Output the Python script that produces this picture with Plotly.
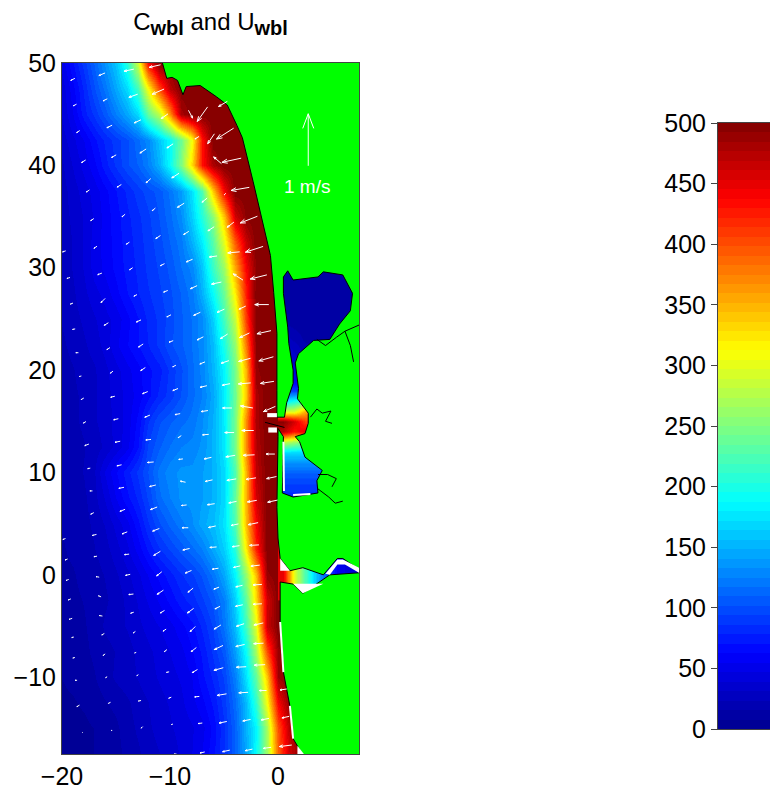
import numpy as np
import plotly.graph_objects as go

ocean_x = list(range(-20, 4))
ocean_y = [50, 47.5, 45, 42.5, 40, 37.5, 35, 32.5, 30, 27.5, 25, 22.5, 20, 17.5, 15, 12.5, 10, 7.5, 5, 2.5, 0,
           -2.5, -5, -7.5, -10, -12.5, -15, -17.5]
# one row per ocean_y, from x=-20 eastward; the shelf is saturated (500) beyond the end of a row
ocean_rows = [
    [50, 70, 90, 110, 135, 160, 205, 290, 435],
    [42, 60, 80, 100, 120, 145, 170, 220, 310, 400, 470],
    [40, 55, 75, 88, 105, 125, 145, 170, 235, 280, 370, 480],
    [35, 45, 55, 68, 80, 90, 100, 115, 130, 160, 190, 240, 310, 430],
    [30, 40, 50, 60, 75, 88, 100, 110, 125, 150, 190, 250, 330, 430, 480],
    [28, 35, 43, 50, 60, 70, 80, 90, 98, 105, 120, 140, 175, 225, 340, 440],
    [28, 33, 40, 48, 58, 67, 76, 84, 92, 102, 115, 132, 165, 205, 255, 340, 460, 495],
    [26, 32, 40, 50, 58, 66, 74, 82, 90, 98, 110, 122, 150, 180, 230, 300, 395, 465],
    [26, 32, 40, 50, 57, 65, 73, 80, 88, 95, 104, 117, 128, 160, 215, 265, 355, 440, 495],
    [25, 30, 37, 44, 50, 60, 70, 78, 85, 92, 100, 110, 122, 150, 190, 240, 320, 425],
    [24, 28, 33, 38, 44, 50, 60, 70, 80, 88, 98, 108, 118, 130, 165, 220, 285, 410],
    [22, 26, 30, 35, 42, 53, 62, 70, 78, 88, 100, 108, 118, 130, 155, 200, 260, 380, 495],
    [20, 23, 27, 30, 37, 44, 52, 60, 68, 75, 88, 100, 115, 128, 152, 185, 245, 350, 490],
    [20, 22, 25, 30, 36, 42, 50, 58, 68, 80, 90, 102, 115, 125, 145, 180, 240, 340, 480],
    [20, 22, 25, 30, 35, 42, 50, 65, 85, 100, 108, 115, 120, 132, 150, 180, 245, 370, 480],
    [18, 20, 23, 27, 33, 42, 52, 70, 95, 108, 118, 125, 128, 135, 150, 178, 245, 370, 475],
    [18, 20, 24, 30, 48, 62, 75, 88, 102, 120, 130, 135, 135, 140, 150, 170, 225, 350, 470],
    [17, 19, 22, 28, 40, 55, 68, 80, 95, 115, 125, 135, 135, 140, 150, 170, 235, 350, 460],
    [16, 18, 21, 25, 32, 42, 52, 68, 85, 100, 112, 122, 132, 145, 155, 175, 225, 345, 440],
    [15, 17, 20, 23, 28, 36, 45, 58, 72, 85, 95, 105, 115, 125, 145, 165, 205, 320, 425],
    [14, 15, 18, 20, 24, 30, 37, 45, 55, 65, 75, 85, 92, 103, 120, 145, 185, 260, 345, 490],
    [12, 14, 16, 18, 22, 27, 33, 40, 48, 56, 65, 75, 82, 92, 105, 125, 165, 235, 330, 460],
    [10, 12, 15, 18, 25, 28, 32, 37, 42, 47, 52, 60, 68, 80, 95, 120, 155, 220, 300, 465],
    [10, 12, 14, 17, 20, 24, 28, 33, 37, 42, 47, 52, 62, 72, 88, 105, 140, 190, 270, 400, 490],
    [8, 10, 12, 15, 20, 25, 28, 32, 36, 40, 44, 48, 55, 68, 80, 95, 125, 175, 235, 340, 485],
    [6, 7, 9, 12, 15, 18, 22, 27, 31, 36, 40, 45, 52, 60, 72, 90, 115, 155, 210, 310, 440, 490],
    [4, 5, 6, 8, 10, 14, 20, 25, 30, 34, 38, 42, 46, 52, 65, 85, 110, 150, 185, 270, 400, 470],
    [4, 5, 6, 8, 10, 13, 18, 22, 27, 31, 35, 40, 47, 55, 68, 85, 110, 145, 190, 265, 390, 460, 490],
]
ocean_z = [r + [500] * (len(ocean_x) - len(r)) for r in ocean_rows]

bay_x = [0.5, 1.5, 2.5, 3.5, 4.5, 5.5, 6.5, 7.5]
bay_y = list(range(31, -3, -1))
bay_z = [
    [12] * 8, [12] * 8, [12] * 8, [12] * 8, [12] * 8, [12] * 8, [12] * 8,
    [20, 16, 12, 12, 12, 12, 12, 12],
    [28, 22, 14, 12, 12, 12, 12, 12],
    [38, 30, 20, 14, 12, 12, 12, 12],
    [42, 35, 25, 20, 20, 20, 20, 20],
    [49, 42, 32, 30, 30, 30, 30, 30],
    [60, 55, 50, 50, 50, 50, 50, 50],
    [95, 90, 85, 85, 85, 85, 85, 85],
    [170, 190, 215, 220, 220, 220, 220, 220],
    [290, 295, 350, 380, 380, 380, 380, 380],
    [495, 460, 410, 400, 400, 400, 400, 400],
    [470, 430, 450, 470, 470, 470, 470, 470],
    [290, 270, 255, 250, 250, 250, 250, 250],
    [170, 170, 170, 170, 170, 170, 170, 170],
    [135, 135, 135, 135, 135, 135, 135, 135],
    [110, 110, 110, 110, 110, 110, 110, 110],
    [95, 95, 95, 95, 95, 95, 95, 95],
    [85, 85, 85, 85, 85, 85, 85, 85],
    [85, 85, 85, 85, 85, 85, 85, 85],
    [85, 85, 85, 85, 85, 85, 85, 85],
    [450, 300, 225, 160, 100, 60, 40, 40],
    [450, 300, 225, 160, 100, 60, 40, 40],
    [450, 300, 225, 160, 100, 60, 40, 40],
    [450, 300, 225, 160, 100, 60, 40, 40],
    [450, 300, 225, 160, 100, 60, 40, 40],
    [450, 300, 225, 160, 100, 60, 40, 40],
    [450, 300, 225, 160, 100, 60, 40, 40],
    [450, 300, 225, 160, 100, 60, 40, 40],
]
bay_z = bay_z[:len(bay_y)]

land_x = [-11, -10.7, -10.3, -9.8, -9.3, -8.8, -8.5, -7.2, -5.7, -4.7, -3.8, -3.3, -2.3, -1.4, -0.7, -0.4, -0.1, -0.1,
          -0.1, 0.6, 0.8, 1.4, 1.4, 1.0, 0.9, 0.5, 0.5, 0.9, 1.4, 3.7, 4.2, 6.0, 6.9, 6.7, 5.7, 4.8, 3.3, 1.9, 1.6, 1.9,
          1.8, 2.8, 2.8, 2.5, 1.6, 2.0, 2.5, 4.1, 3.6, 3.7, 1.4, 0.4, 0.5, 0.0, 0.0, -0.1, 0.0, 0.2, 1.1, 2.3, 4.2, 5.5,
          6.0, 7.4, 9, 9, 7.5, 4.8, 2.3, 1.4, 0.2, 0.2, 0.5, 1.1, 1.4, 2.3, 2.5, 9, 9, -11]
land_y = [52, 50, 48.5, 48.6, 48.3, 46.9, 47.7, 47.8, 46.7, 45.9, 43.9, 42.7, 38.4, 34.5, 31.2, 27.6, 23.6, 18,
          15.4, 15.4, 16.8, 18.7, 20, 22.6, 24.2, 27.5, 29.1, 29.7, 28.8, 29.1, 29.6, 29.3, 27.5, 25.8, 24.5, 23, 22.9,
          21.6, 20.7, 18.2, 17.2, 15.8, 14.8, 13.8, 13.5, 13, 11.5, 10.2, 9.2, 8, 7.6, 8, 13.5, 14.3, 13.5, 6.6, 3.6,
          1.6, 0.4, 0.7, 0, 1.6, 1.6, 0.6, 0.6, 0.2, 0.2, 0, -1.8, -0.9, -0.7, -4.6, -9.5, -12.8, -16, -17.6, -19, -19,
          52, 52]

white_patches = [
    ([-1.0, -0.1, -0.1, -1.0], [15.8, 15.8, 15.4, 15.4]),
    ([-0.9, -0.1, -0.1, -0.9], [14.4, 14.4, 13.9, 13.9]),
    ([1.4, 4.2, 2.3], [-0.86, -0.86, -1.8]),
    ([0.2, 1.1, 0.2], [1.6, 0.4, 0.4]),
    ([4.4, 5.5, 6.0, 7.5, 7.5, 6.2, 5.5, 4.8], [0.1, 1.5, 1.5, 0.7, 0.2, 1.0, 1.0, 0.0]),
    ([1.8, 2.4, 1.8], [-16.7, -17.5, -17.5]),
]
white_shore_x = [0.2, 0.5, None, 1.1, 1.4, None, 0.55, 0.5, None, 1.4, 3.0]
white_shore_y = [-4.6, -9.5, None, -12.8, -16, None, 8.2, 13, None, 7.8, 7.9]

creek_x = [3.0, 3.6, 4.1, 4.9, 4.4, 5.0, None, 3.6, 4.4, 5.4, 6.2, 7.5, None, 6.2, 6.7, 7.0, None, 3.7, 4.6, 5.4, 5.0,
           None, -1.2, 0.6, None, 3.7, 4.7, 5.3, 6.0]
creek_y = [15.4, 16.2, 15.8, 16.0, 15.0, 14.8, None, 23.0, 22.4, 23.2, 23.8, 24.4, None, 23.8, 22.4, 20.8, None, 9.8,
           9.8, 9.4, 8.6, None, 14.9, 14.4, None, 8.4, 7.6, 7.0, 7.2]

quiver_x = [-19.0, -16.3, -13.8, -11.4, -18.8, -16.0, -13.4, -11.1, -18.5, -15.6, -13.0, -10.5, -8.1, -7.0, -5.1,
            -18.0, -15.2, -12.5, -10.0, -7.5, -6.2, -4.9, -17.6, -14.7, -12.0, -9.5, -5.6, -4.3,
            -17.2, -14.3, -11.5, -9.0, -6.8, -4.9, -3.5, -16.9, -13.9, -11.1, -8.5, -6.2, -4.4, -2.7,
            -19.8, -19.4, -16.5, -13.6, -10.7, -8.2, -6.0, -4.1, -2.2, -10.4, -7.8, -5.7, -3.7, -1.8,
            -19.1, -16.2, -13.2, -18.9, -15.9, -12.9, -10.1, -7.5, -5.3, -3.3, -1.5,
            -18.6, -15.7, -12.7, -9.9, -7.2, -5.0, -3.1, -1.3, -18.3, -15.4, -12.5, -9.6, -7.0, -4.9, -3.1, -1.1,
            -18.1, -15.3, -12.3, -9.5, -6.9, -4.8, -3.1, -1.0, -17.9, -15.0, -12.1, -9.3, -6.8, -4.7, -2.9, -0.8,
            -17.7, -14.85, -12.0, -9.1, -6.7, -4.5, -2.8, -17.5, -14.7, -11.8, -9.0, -6.5, -4.4, -2.7, -0.7,
            -17.3, -14.5, -11.6, -8.8, -6.4, -4.3, -2.5, -0.6, -17.2, -14.4, -11.5, -8.7, -6.2, -4.2, -2.4, -0.5,
            -8.6, -6.1, -4.0, -2.3, -19.8, -17.0, -14.2, -11.3,
            -19.6, -16.9, -14.0, -11.2, -8.5, -6.0, -3.9, -2.2, -19.5, -16.7, -13.9, -11.0, -8.3, -5.8, -3.8, -2.1,
            -19.3, -16.5, -13.6, -10.9, -8.1, -5.7, -3.6, -1.9, -19.2, -16.4, -13.5, -10.7, -8.1, -5.6, -3.6, -1.9,
            -19.0, -16.2, -13.3, -10.5, -7.9, -5.6, -3.5, -1.8, -18.9, -16.1, -13.2, -10.4, -7.8, -5.5, -3.5, -1.8,
            -18.7, -15.9, -13.0, -10.2, -7.7, -5.5, -3.4, -1.7, -18.5, -15.6, -12.8, -10.0, -7.5, -5.2, -3.2, -1.4, 0.5,
            -18.1, -15.4, -12.6, -9.8, -7.2, -5.1, -2.9, -1.2, 0.7, -9.5, -7.0, -4.8, -2.7, -1.0, 0.7]
quiver_y = [48.4, 48.9, 49.3, 49.7, 45.9, 46.4, 46.8, 47.2, 43.3, 43.8, 44.3, 44.8, 45.0, 45.0, 46.0,
            40.4, 40.9, 41.4, 41.9, 42.7, 42.6, 43.1, 37.5, 38.0, 38.5, 39.0, 40.5, 40.5,
            34.7, 35.1, 35.7, 36.1, 36.6, 37.2, 37.7, 32.0, 32.4, 33.0, 33.4, 33.8, 34.2, 34.7,
            31.6, 29.0, 29.4, 29.9, 30.3, 30.7, 31.1, 31.5, 31.8, 27.7, 28.1, 28.5, 29.1, 29.1,
            26.5, 26.8, 27.3, 24.0, 24.5, 24.8, 25.3, 25.5, 25.8, 26.1, 26.4,
            21.7, 22.1, 22.4, 22.8, 23.1, 23.3, 23.4, 23.7, 19.4, 19.8, 20.1, 20.4, 20.7, 20.8, 21.0, 21.1,
            17.2, 17.4, 17.8, 18.1, 18.4, 18.6, 18.7, 18.8, 14.9, 15.2, 15.5, 15.7, 16.0, 16.3, 16.4, 16.2,
            12.7, 13.0, 13.2, 13.5, 13.7, 13.9, 14.1, 10.4, 10.7, 11.0, 11.3, 11.4, 11.6, 11.7, 11.8,
            8.2, 8.5, 8.7, 9.1, 9.2, 9.3, 9.4, 9.5, 6.0, 6.3, 6.5, 6.8, 6.9, 7.1, 7.2, 7.2,
            4.6, 4.7, 4.9, 5.0, 3.5, 3.9, 4.1, 4.4,
            1.5, 1.8, 2.0, 2.1, 2.5, 2.7, 2.8, 2.9, -0.5, -0.2, 0.0, 0.1, 0.3, 0.6, 0.8, 0.9,
            -2.4, -2.1, -1.9, -1.7, -1.5, -1.3, -1.1, -0.96, -4.3, -4.0, -3.7, -3.6, -3.5, -3.2, -3.0, -2.85,
            -6.1, -5.8, -5.6, -5.4, -5.3, -5.1, -4.9, -4.8, -8.1, -7.8, -7.6, -7.4, -7.3, -7.1, -6.9, -6.7,
            -10.3, -10.0, -9.8, -9.5, -9.4, -9.2, -9.0, -8.8, -12.8, -12.5, -12.3, -12.0, -11.9, -11.7, -11.5, -11.3, -11.2,
            -15.4, -15.2, -14.9, -14.6, -14.5, -14.4, -14.2, -14.1, -13.9, -17.5, -17.35, -17.2, -17.1, -16.9, -16.7]
quiver_u = [-.08, -.12, -.19, -.22, -.06, -.08, -.17, -.23, -.06, -.10, -.13, -.13, .08, -.20, -.17,
            -.08, -.09, -.12, -.12, -.08, -.13, -.33, -.06, -.08, -.09, -.14, -.15, -.37,
            -.06, -.06, -.06, -.13, -.10, -.03, -.35, -.06, -.06, -.09, -.10, -.12, -.13, -.33,
            -.06, -.06, -.08, -.06, -.08, -.12, -.15, -.23, -.34, -.08, -.13, -.19, -.19, -.32,
            -.05, -.08, -.06, -.05, -.08, -.09, -.08, -.13, -.14, -.13, -.27,
            -.05, -.06, -.09, -.08, -.12, -.14, -.19, -.27, -.04, -.05, -.09, -.06, -.10, -.15, -.23, -.28,
            -.05, -.08, -.10, -.10, -.13, -.15, -.24, -.26, -.05, -.09, -.10, -.10, -.13, -.18, -.24, -.23,
            -.08, -.10, -.10, -.06, -.12, -.18, -.23, -.05, -.09, -.12, -.08, -.14, -.18, -.22, -.17,
            -.05, -.10, -.12, -.10, -.14, -.18, -.19, -.19, -.06, -.10, -.13, -.10, -.14, -.15, -.18, -.19,
            -.12, -.14, -.14, -.19, -.05, -.08, -.10, -.13,
            -.05, -.06, -.09, -.13, -.13, -.13, -.14, -.18, -.05, -.06, -.09, -.10, -.12, -.12, -.13, -.17,
            -.05, -.05, -.09, -.12, -.10, -.10, -.13, -.17, -.06, -.06, -.06, -.08, -.12, -.10, -.14, -.17,
            -.04, -.05, -.04, -.06, -.10, -.13, -.15, -.18, -.04, -.04, -.03, -.05, -.10, -.17, -.17, -.19,
            -.04, -.02, -.03, -.05, -.10, -.18, -.19, -.21, -.05, -.04, -.05, -.05, -.09, -.18, -.18, -.14, -.13,
            -.01, -.02, -.03, -.03, -.08, -.15, -.15, -.15, -.14, -.04, -.09, -.14, -.14, -.15, -.24]
quiver_v = [-.04, -.05, -.04, -.05, -.03, -.04, -.06, -.10, -.04, -.05, -.06, -.09, -.15, -.28, -.10,
            -.05, -.05, -.08, -.08, -.05, -.19, -.21, -.04, -.05, -.08, -.09, .13, -.08,
            -.04, -.05, -.05, -.08, -.08, -.03, -.06, -.04, -.04, -.06, -.06, -.08, -.10, -.13,
            -.02, -.02, -.03, -.04, -.04, -.05, -.02, -.02, -.11, -.03, -.06, -.04, .12, -.08,
            -.02, -.08, -.03, -.01, -.05, -.04, -.04, -.06, -.06, -.06, 0,
            0, -.04, -.06, -.03, -.06, -.09, -.09, -.06, -.01, -.04, -.06, -.03, -.04, -.05, -.06, -.08,
            -.03, -.02, -.04, -.04, -.03, -.03, -.02, -.04, -.03, -.02, -.04, -.02, -.02, 0, .04, -.10,
            -.03, -.02, -.01, -.04, -.01, 0, 0, -.01, -.02, -.01, -.01, -.03, -.03, -.01, 0,
            0, -.02, -.03, .02, -.03, -.03, -.03, -.04, -.03, -.04, -.05, -.01, -.02, -.03, -.03, -.04,
            0, -.03, -.03, -.04, -.02, -.02, -.04, -.05,
            -.02, -.01, -.01, -.08, -.03, -.01, -.02, -.01, -.02, .01, -.02, -.08, -.05, -.02, -.03, -.02,
            -.02, .02, -.01, -.08, -.08, -.04, -.03, -.01, -.02, .01, -.02, -.05, -.09, -.05, -.03, -.01,
            -.01, -.03, -.03, -.04, -.10, -.08, -.05, -.04, -.01, -.03, -.01, -.04, -.08, -.08, -.04, -.01,
            0, -.03, -.02, -.01, -.06, -.05, -.01, -.01, -.03, -.02, -.01, -.02, -.01, -.03, -.01, 0, -.02,
            0, 0, -.03, -.01, -.01, -.03, -.03, -.03, -.03, 0, -.02, -.03, -.03, -.02, -.03]
scale_x, scale_y, scale_u, scale_v = [2.8], [42.5], [0.0], [1.0]

x_ticks = [-20, -10, 0]
y_ticks = [-10, 0, 10, 20, 30, 40, 50]
cbar_ticks = [0, 50, 100, 150, 200, 250, 300, 350, 400, 450, 500]
minus = "\u2212"

JET_POS = [0, .125, .375, .625, .875, 1]
JET_R = [0, 0, 0, 255, 255, 128]
JET_G = [0, 0, 255, 255, 0, 0]
JET_B = [143, 255, 255, 0, 0, 0]
LEVELS = 64
cbar_levels = [(i + .5) * 500 / LEVELS for i in range(LEVELS)]


def stepped_jet():
    scale = []
    for i in range(LEVELS):
        t = (i + .5) / LEVELS
        c = "rgb(%d,%d,%d)" % tuple(int(round(np.interp(t, JET_POS, ch))) for ch in (JET_R, JET_G, JET_B))
        scale += [[i / LEVELS, c], [(i + 1) / LEVELS, c]]
    return scale


PX_X, PX_Y = 10.8, 10.23
ARROW_PX = 52


def arrows(xs, ys, us, vs):
    lx, ly = [], []
    for x, y, u, v in zip(xs, ys, us, vs):
        dx, dy = u * ARROW_PX, v * ARROW_PX
        tail = (x - dx / 2 / PX_X, y - dy / 2 / PX_Y)
        tip = (x + dx / 2 / PX_X, y + dy / 2 / PX_Y)
        a = np.arctan2(dy, dx)
        h = 0.3 * np.hypot(dx, dy)
        lx += [tail[0], tip[0], None]
        ly += [tail[1], tip[1], None]
        for s in (-1, 1):
            b = a + np.pi + s * 0.36
            lx += [tip[0], tip[0] + h * np.cos(b) / PX_X, None]
            ly += [tip[1], tip[1] + h * np.sin(b) / PX_Y, None]
    return lx, ly


fig = go.Figure()
fig.add_trace(go.Heatmap(x=ocean_x, y=ocean_y, z=ocean_z, coloraxis="coloraxis", zsmooth="best", hoverinfo="skip"))
fig.add_trace(go.Heatmap(x=bay_x, y=bay_y, z=bay_z, coloraxis="coloraxis", zsmooth="best", hoverinfo="skip"))
fig.add_trace(go.Scatter(x=land_x, y=land_y, mode="lines", fill="toself", fillcolor="#00ff00",
                         line=dict(color="black", width=1), hoverinfo="skip", showlegend=False))
for wx, wy in white_patches:
    fig.add_trace(go.Scatter(x=wx, y=wy, mode="lines", fill="toself", fillcolor="white",
                             line=dict(color="white", width=0), hoverinfo="skip", showlegend=False))
fig.add_trace(go.Scatter(x=white_shore_x, y=white_shore_y, mode="lines", line=dict(color="white", width=2),
                         hoverinfo="skip", showlegend=False))
fig.add_trace(go.Scatter(x=creek_x, y=creek_y, mode="lines", line=dict(color="black", width=1),
                         hoverinfo="skip", showlegend=False))
qx, qy = arrows(quiver_x, quiver_y, quiver_u, quiver_v)
fig.add_trace(go.Scatter(x=qx, y=qy, mode="lines", line=dict(color="white", width=1), hoverinfo="skip",
                         showlegend=False))
sx, sy = arrows(scale_x, scale_y, scale_u, scale_v)
fig.add_trace(go.Scatter(x=sx, y=sy, mode="lines", line=dict(color="white", width=1), hoverinfo="skip",
                         showlegend=False))
fig.add_trace(go.Heatmap(x=[0, 1], y=cbar_levels, z=[[v, v] for v in cbar_levels], coloraxis="coloraxis",
                         xaxis="x2", yaxis="y2", hoverinfo="skip"))

FONT = "Liberation Sans"
fig.add_annotation(x=2.7, y=37.9, text="1 m/s", showarrow=False, font=dict(family=FONT, size=19, color="white"))
sub = '<sub><b><span style="font-size:20px">wbl</span></b></sub>'
W, H = 770, 791
fig.update_layout(
    width=W, height=H, autosize=False,
    margin=dict(l=0, r=0, t=0, b=0),
    paper_bgcolor="white", plot_bgcolor="white",
    font=dict(family=FONT, size=25, color="black"),
    showlegend=False,
    title=dict(text="C" + sub + " and U" + sub, x=210.5 / W, xanchor="center", y=1 - 22 / H, yanchor="middle",
               font=dict(family=FONT, size=24, color="black")),
    xaxis=dict(domain=[62 / W, 359 / W], range=[-20, 7.5], tickvals=x_ticks, automargin=False,
               ticktext=[str(v).replace("-", minus) for v in x_ticks],
               ticks="", showgrid=False, zeroline=False, mirror=True, showline=True, linecolor="#444", linewidth=1),
    yaxis=dict(domain=[(H - 754) / H, (H - 63) / H], range=[-17.5, 50], tickvals=y_ticks, automargin=False,
               ticktext=[str(v).replace("-", minus) for v in y_ticks],
               ticks="", showgrid=False, zeroline=False, mirror=True, showline=True, linecolor="#444", linewidth=1),
    xaxis2=dict(domain=[718 / W, 1], range=[0, 1], anchor="y2", showticklabels=False, ticks="", showgrid=False,
                automargin=False, zeroline=False, mirror=True, showline=True, linecolor="#444", linewidth=1),
    yaxis2=dict(domain=[(H - 729) / H, (H - 123) / H], range=[0, 500], anchor="x2", side="left", tickvals=cbar_ticks,
                automargin=False, ticks="outside", ticklen=6, tickcolor="#444", showgrid=False, zeroline=False,
                mirror=True, showline=True, linecolor="#444", linewidth=1),
    coloraxis=dict(cmin=0, cmax=500, colorscale=stepped_jet(), showscale=False),
)
fig.write_html("out.html", config={"displayModeBar": False},
               post_script="document.body.style.margin='0';document.body.style.overflow='hidden';"
                           "window.dispatchEvent(new Event('resize'));")
